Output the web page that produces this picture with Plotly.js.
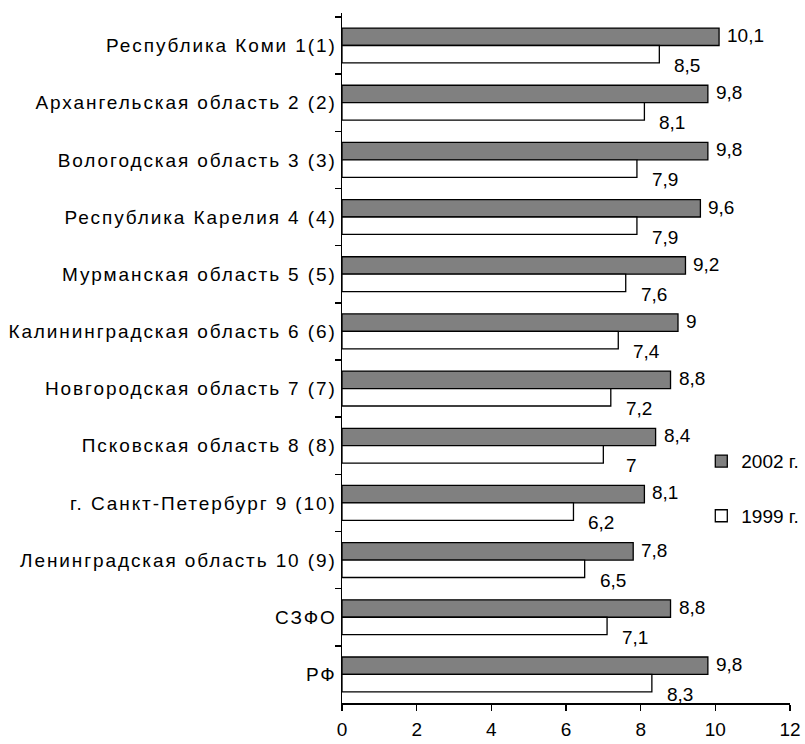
<!DOCTYPE html>
<html>
<head>
<meta charset="utf-8">
<script src="https://cdn.plot.ly/plotly-3.0.1.min.js"></script>
<style>
html,body{margin:0;padding:0;background:#fff;overflow:hidden;}
#chart .ytick text{letter-spacing:1.9px;}
</style>
</head>
<body>
<div id="chart" style="width:805px;height:744px;"></div>
<script>
var categories = ["Республика Коми 1(1)", "Архангельская область 2 (2)", "Вологодская область 3 (3)", "Республика Карелия 4 (4)", "Мурманская область 5 (5)", "Калининградская область 6 (6)", "Новгородская область 7 (7)", "Псковская область 8 (8)", "г. Санкт-Петербург 9 (10)", "Ленинградская область 10 (9)", "СЗФО", "РФ"];
var v2002 = [10.1, 9.8, 9.8, 9.6, 9.2, 9, 8.8, 8.4, 8.1, 7.8, 8.8, 9.8];
var v1999 = [8.5, 8.1, 7.9, 7.9, 7.6, 7.4, 7.2, 7, 6.2, 6.5, 7.1, 8.3];
var seriesNames = ["2002 г.", "1999 г."];
var xTicks = [0, 2, 4, 6, 8, 10, 12];

var FONT = "'Liberation Sans', Arial, sans-serif";
var FS = 19;
function fmt(v){ return String(v).replace('.', ','); }

var traces = [
  {type:'bar', orientation:'h', name:seriesNames[0], y:categories, x:v2002,
   marker:{color:'#808080', line:{color:'#000', width:1.3}}, legendgroup:'a', hoverinfo:'x'},
  {type:'bar', orientation:'h', name:seriesNames[1], y:categories, x:v1999,
   marker:{color:'#ffffff', line:{color:'#000', width:1.3}}, legendgroup:'b', hoverinfo:'x'}
];

var annotations = [];
categories.forEach(function(c, i){
  annotations.push({x:v2002[i], y:c, xref:'x', yref:'y', text:fmt(v2002[i]), showarrow:false,
    xanchor:'left', yanchor:'middle', xshift:6, yshift:10, font:{family:FONT, size:FS, color:'#000'}});
  annotations.push({x:v1999[i], y:c, xref:'x', yref:'y', text:fmt(v1999[i]), showarrow:false,
    xanchor:'center', yanchor:'middle', xshift:28, yshift:-20, font:{family:FONT, size:FS, color:'#000'}});
});

var layout = {
  width:805, height:744,
  margin:{l:342, r:15, t:13, b:41, pad:0, autoexpand:false},
  paper_bgcolor:'#fff', plot_bgcolor:'#fff',
  barmode:'group', bargap:0.39, bargroupgap:0,
  font:{family:FONT, size:FS, color:'#000'},
  showlegend:true,
  legend:{x:0.802, xanchor:'left', y:0.378, yanchor:'top', traceorder:'grouped', tracegroupgap:27,
    font:{family:FONT, size:FS, color:'#000'}, bgcolor:'rgba(0,0,0,0)'},
  xaxis:{range:[0,12], tickvals:xTicks, ticktext:xTicks.map(String), showgrid:false, zeroline:false,
    showline:true, linecolor:'#000', linewidth:1.5, ticks:'outside', ticklen:6, tickwidth:1.5, tickcolor:'#000',
    ticklabelstandoff:3, tickfont:{family:FONT, size:FS}, fixedrange:true},
  yaxis:{type:'category', autorange:'reversed', showgrid:false, zeroline:false,
    showline:true, linecolor:'#000', linewidth:1.5, ticks:'outside', ticklen:6, tickwidth:1.5, tickcolor:'#000',
    tickson:'boundaries', tickfont:{family:FONT, size:FS}, fixedrange:true},
  annotations:annotations
};

Plotly.newPlot('chart', traces, layout, {displayModeBar:false, staticPlot:true});
</script>
</body>
</html>
